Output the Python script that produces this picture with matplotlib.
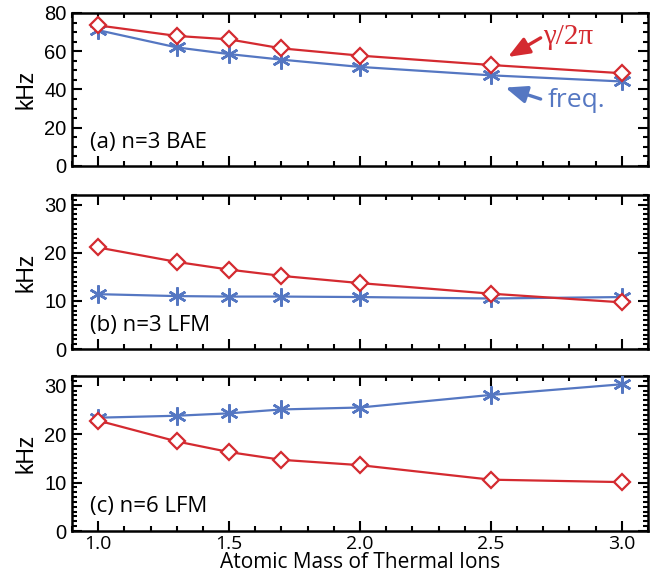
import matplotlib
matplotlib.use('Agg')
import matplotlib.pyplot as plt
from matplotlib.ticker import MultipleLocator

# atomic mass of thermal ions
mass = [1.0, 1.3, 1.5, 1.7, 2.0, 2.5, 3.0]

# (a) n=3 BAE
bae_gamma = [73.5, 68.0, 66.2, 61.5, 57.7, 52.8, 48.5]
bae_freq = [71.0, 62.0, 58.5, 55.6, 51.8, 47.4, 44.2]

# (b) n=3 LFM
lfm3_gamma = [21.1, 18.1, 16.5, 15.2, 13.7, 11.5, 9.7]
lfm3_freq = [11.4, 11.0, 10.9, 10.9, 10.8, 10.5, 10.8]

# (c) n=6 LFM
lfm6_gamma = [22.8, 18.5, 16.3, 14.7, 13.6, 10.6, 10.1]
lfm6_freq = [23.4, 23.8, 24.3, 25.1, 25.5, 28.1, 30.3]

labels = ['(a) n=3 BAE', '(b) n=3 LFM', '(c) n=6 LFM']

red = '#d42a30'
blue = '#5577c2'
tick_font = 'Liberation Sans'
text_font = 'Open Sans'

fig = plt.figure(figsize=(6.57, 5.82), dpi=100)
boxes = [[0.1096, 0.7148, 0.8767, 0.2629],
         [0.1096, 0.4003, 0.8767, 0.2646],
         [0.1096, 0.0876, 0.8767, 0.2663]]

data = [(bae_gamma, bae_freq), (lfm3_gamma, lfm3_freq), (lfm6_gamma, lfm6_freq)]
axes = []
for i, box in enumerate(boxes):
    ax = fig.add_axes(box)
    g, f = data[i]
    ax.plot(mass, f, color=blue, lw=1.6, marker=(6, 2, 0), ms=13, mew=1.8,
            mec=blue, zorder=3)
    ax.plot(mass, g, color=red, lw=1.6, marker='D', ms=8.5, mew=1.6,
            mfc='white', mec=red, zorder=4)
    ax.set_xlim(0.9, 3.1)
    if i == 0:
        ax.set_ylim(0, 80)
        ax.yaxis.set_major_locator(MultipleLocator(20))
        ax.yaxis.set_minor_locator(MultipleLocator(5))
    else:
        ax.set_ylim(0, 32)
        ax.yaxis.set_major_locator(MultipleLocator(10))
        ax.yaxis.set_minor_locator(MultipleLocator(1))
    ax.xaxis.set_major_locator(MultipleLocator(0.5))
    ax.xaxis.set_minor_locator(MultipleLocator(0.1))
    ax.tick_params(which='both', direction='in', top=True, right=True, width=1.5)
    ax.tick_params(which='major', length=7, labelsize=14.5, pad=4)
    ax.tick_params(which='minor', length=3.5)
    ax.tick_params(axis='x', pad=3)
    for s in ax.spines.values():
        s.set_linewidth(1.8)
    for t in ax.get_yticklabels():
        t.set_fontfamily(tick_font)
    if i < 2:
        ax.set_xticklabels([])
    else:
        ax.set_xticks([1.0, 1.5, 2.0, 2.5, 3.0])
        ax.set_xticklabels(['1.0', '1.5', '2.0', '2.5', '3.0'], fontfamily=text_font, fontsize=14)
        ax.set_xlabel('Atomic Mass of Thermal Ions', fontfamily=text_font, fontsize=15, labelpad=-1)
    ax.set_ylabel('kHz', fontfamily=tick_font, fontsize=16.5, labelpad=5)
    ax.text(0.031, 0.155, labels[i], transform=ax.transAxes, fontfamily=text_font,
            fontsize=16, va='center', ha='left')
    axes.append(ax)

ax = axes[0]
arrow = dict(arrowstyle='-|>,head_length=0.65,head_width=0.26', lw=2.4,
             mutation_scale=20, shrinkA=0, shrinkB=0)
ax.annotate('', xy=(2.565, 57.0), xytext=(2.69, 67.0),
            arrowprops=dict(color=red, **arrow))
ax.text(2.70, 67.5, 'γ/2π', color=red, fontsize=21, va='center', ha='left',
        fontfamily='Liberation Serif')
ax.annotate('', xy=(2.555, 41.0), xytext=(2.69, 35.0),
            arrowprops=dict(color=blue, **arrow))
ax.text(2.715, 34.0, 'freq.', color=blue, fontsize=19, va='center', ha='left',
        fontfamily=text_font)

fig.savefig('out.png', dpi=100)
